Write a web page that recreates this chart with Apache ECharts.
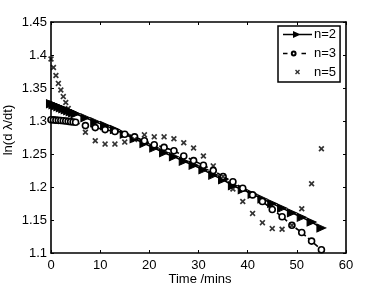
<!DOCTYPE html>
<html><head><meta charset="utf-8">
<script src="https://cdn.jsdelivr.net/npm/echarts@6/dist/echarts.min.js"></script>
<style>html,body{margin:0;padding:0;background:#fff}#c{width:382px;height:287px}</style>
</head><body><div id="c"></div>
<script>
const xTicks = [0, 10, 20, 30, 40, 50, 60];
const yTicks = [1.1, 1.15, 1.2, 1.25, 1.3, 1.35, 1.4, 1.45];
const seriesNames = ['n=2', 'n=3', 'n=5'];

const n2Time = [0,0.5,1,1.5,2,2.5,3,3.5,4,4.5,5,7,9,11,13,15,17,19,21,23,25,27,29,31,33,35,37,39,41,43,45,47,49,51,53,55];
const n2Vals = [1.326,1.3245,1.323,1.3215,1.320,1.3185,1.317,1.3155,1.314,1.3125,1.311,1.305,1.299,1.293,1.287,1.280,1.273,1.266,1.259,1.252,1.246,1.239,1.233,1.226,1.218,1.211,1.202,1.196,1.189,1.182,1.175,1.168,1.161,1.154,1.147,1.138];

const n3Time = [0,0.5,1,1.5,2,2.5,3,3.5,4,4.5,5,7,9,11,13,15,17,19,21,23,25,27,29,31,33,35,37,39,41,43,45,47,49,51,53,55];
const n3Vals = [1.302,1.3017,1.3013,1.301,1.3007,1.3003,1.300,1.2995,1.299,1.2985,1.298,1.293,1.290,1.287,1.284,1.280,1.276,1.270,1.264,1.260,1.255,1.247,1.240,1.233,1.225,1.216,1.208,1.198,1.188,1.178,1.166,1.155,1.142,1.131,1.118,1.105];

const n5Time = [0,0.5,1,1.5,2,2.5,3,3.5,7,9,11,13,15,17,19,21,23,25,27,29,31,33,35,37,39,41,43,45,47,49,51,53,55];
const n5Vals = [1.394,1.381,1.369,1.357,1.347,1.337,1.328,1.319,1.283,1.270,1.265,1.265,1.268,1.272,1.279,1.276,1.276,1.273,1.267,1.259,1.247,1.232,1.216,1.197,1.178,1.160,1.146,1.137,1.136,1.142,1.167,1.205,1.258];

const pair = (t, v) => t.map((x, i) => [x, v[i]]);
const FONT = "'Liberation Sans', Arial, Helvetica, sans-serif";
const crossPath = 'path://M0,2 L2,0 L5,3 L8,0 L10,2 L7,5 L10,8 L8,10 L5,7 L2,10 L0,8 L3,5 Z';
// legend icons drawn in a 29x12 box; tiny corner specks fix the box extent
const BOX = 'M0,0 L0.05,0 L0,0.05 Z M29,12 L28.95,12 L29,11.95 Z ';
const legendTri = 'path://' + BOX +
  'M0,5.3 L29,5.3 L29,6.7 L0,6.7 Z M10,2.4 L17.8,6 L10,9.6 Z';
const legendCirc = 'path://' + BOX +
  'M0,5.3 L4.5,5.3 L4.5,6.7 L0,6.7 Z M18.5,5.3 L23,5.3 L23,6.7 L18.5,6.7 Z ' +
  'M7.8,6 A2.9,2.9 0 1,0 13.6,6 A2.9,2.9 0 1,0 7.8,6 Z M9.8,6 A0.9,0.9 0 1,1 11.6,6 A0.9,0.9 0 1,1 9.8,6 Z';
const legendCross = 'path://' + BOX +
  'M12,4 L13,3 L14.5,4.5 L16,3 L17,4 L15.5,5.5 L17,7 L16,8 L14.5,6.5 L13,8 L12,7 L13.5,5.5 Z';

const chart = echarts.init(document.getElementById('c'), null, {renderer: 'canvas'});
const axisCommon = {
  nameMoveOverlap: false,
  axisLine: {show: true, onZero: false, lineStyle: {color: '#000', width: 1.6}},
  axisTick: {show: true, inside: true, length: 3, lineStyle: {color: '#000', width: 1}},
  splitLine: {show: false}
};
const fmtY = v => String(parseFloat(Number(v).toFixed(2)));
chart.setOption({
  animation: false,
  backgroundColor: '#fff',
  grid: {left: 51, top: 22, width: 295, height: 231, containLabel: false, outerBoundsMode: 'none'},
  xAxis: [
    Object.assign({}, axisCommon, {type: 'value', position: 'bottom', min: xTicks[0], max: xTicks[xTicks.length-1], interval: 10,
      name: 'Time /mins', nameLocation: 'middle', nameGap: 20,
      nameTextStyle: {color: '#000', fontSize: 13, fontFamily: FONT, padding: [0, 0, 0, 3]},
      axisLabel: {color: '#000', fontSize: 13, fontFamily: FONT, margin: 6}}),
    Object.assign({}, axisCommon, {type: 'value', position: 'top', min: xTicks[0], max: xTicks[xTicks.length-1], interval: 10,
      axisLabel: {show: false}})
  ],
  yAxis: [
    Object.assign({}, axisCommon, {type: 'value', position: 'left', min: yTicks[0], max: yTicks[yTicks.length-1], interval: 0.05,
      name: 'ln(d \u03bb/dt)', nameLocation: 'middle', nameGap: 36, nameRotate: 90,
      nameTextStyle: {color: '#000', fontSize: 13, fontFamily: FONT, padding: [0, 0, 0, 15]},
      axisLabel: {color: '#000', fontSize: 13, fontFamily: FONT, margin: 4, formatter: fmtY}}),
    Object.assign({}, axisCommon, {type: 'value', position: 'right', min: yTicks[0], max: yTicks[yTicks.length-1], interval: 0.05,
      axisLabel: {show: false}})
  ],
  legend: {
    orient: 'vertical', left: 278, top: 26,
    data: [
      {name: seriesNames[0], icon: legendTri},
      {name: seriesNames[1], icon: legendCirc},
      {name: seriesNames[2], icon: legendCross}
    ],
    symbolKeepAspect: false,
    itemStyle: {color: '#000', borderWidth: 0},
    backgroundColor: '#fff', borderColor: '#000', borderWidth: 1.5, borderRadius: 0,
    padding: [2, 4, 3, 5], itemGap: 6, itemWidth: 29, itemHeight: 12,
    textStyle: {color: '#000', fontSize: 13, fontFamily: FONT, padding: [0, 0, 0, -3]}
  },
  series: [
    {name: seriesNames[0], type: 'line', data: pair(n2Time, n2Vals),
      symbol: 'triangle', symbolSize: [8, 9], symbolRotate: -90, showAllSymbol: true,
      lineStyle: {color: '#000', width: 1.6}, itemStyle: {color: '#000', borderColor: '#000'}, z: 3},
    {name: seriesNames[1], type: 'line', data: pair(n3Time, n3Vals),
      symbol: 'circle', symbolSize: 6, showAllSymbol: true,
      lineStyle: {color: '#000', width: 1.6, type: [5, 3]}, itemStyle: {color: '#fff', borderColor: '#000', borderWidth: 1.6}, z: 4},
    {name: seriesNames[2], type: 'scatter', data: pair(n5Time, n5Vals),
      symbol: crossPath, symbolSize: 6,
      itemStyle: {color: '#000'}, z: 5}
  ]
});
</script></body></html>
